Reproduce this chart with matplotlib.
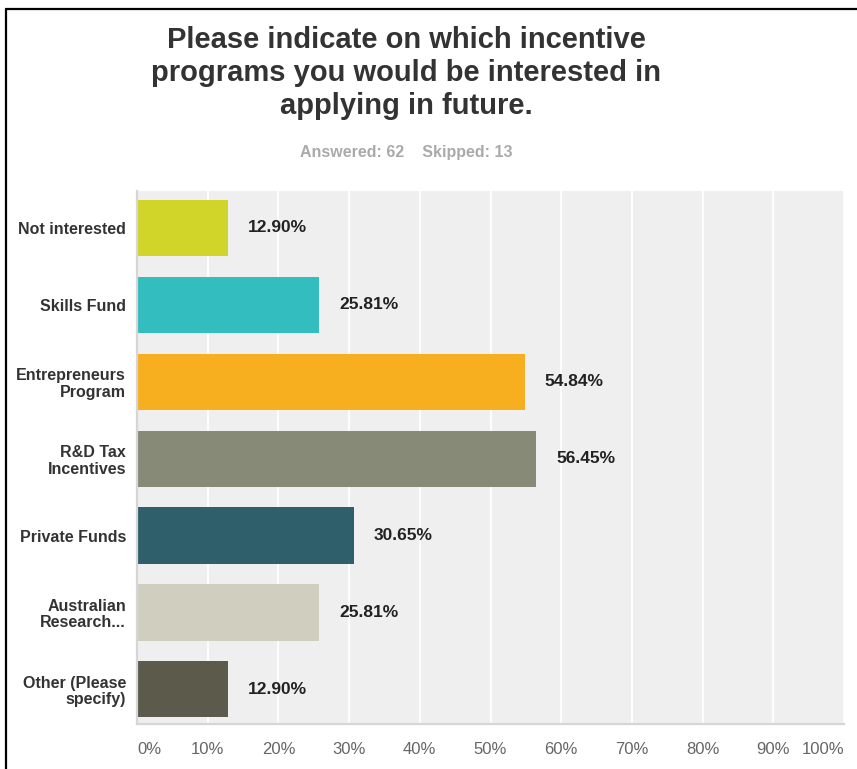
import matplotlib
matplotlib.use("Agg")
import matplotlib.pyplot as plt
from matplotlib.lines import Line2D

plt.rcParams["font.family"] = ["Liberation Sans", "DejaVu Sans"]

categories = [
    "Not interested",
    "Skills Fund",
    "Entrepreneurs\nProgram",
    "R&D Tax\nIncentives",
    "Private Funds",
    "Australian\nResearch...",
    "Other (Please\nspecify)",
]
values = [12.90, 25.81, 54.84, 56.45, 30.65, 25.81, 12.90]
colors = ["#d1d52a", "#33bdbf", "#f7af1f", "#888a78", "#2e5f6b", "#cfcebf", "#5b5a4b"]
ticks = [0, 10, 20, 30, 40, 50, 60, 70, 80, 90, 100]
tick_labels = [f"{t}%" for t in ticks]

title = "Please indicate on which incentive\nprograms you would be interested in\napplying in future."
subtitle = "Answered: 62    Skipped: 13"

W, H = 857, 769
fig = plt.figure(figsize=(W / 100, H / 100), dpi=100)
fig.patch.set_facecolor("white")

# plot area in pixels: x 137..844, y 191..724
ax = fig.add_axes([137 / W, (H - 724) / H, (844 - 137) / W, (724 - 191) / H])
ax.set_facecolor("#efefef")

ypos = list(range(len(categories)))
ax.barh(ypos, values, height=0.73, color=colors, zorder=3)
ax.set_xlim(0, 100)
ax.set_ylim(6.45, -0.48)

for y, v in zip(ypos, values):
    ax.annotate(f"{v:.2f}%", (v, y), xytext=(20, 0), textcoords="offset pixels",
                ha="left", va="center", fontsize=12.5, fontweight="bold", color="#222222")

ax.set_xticks(ticks)
ax.set_xticklabels(tick_labels, fontsize=12, color="#666666")
ax.get_xticklabels()[0].set_horizontalalignment("left")
ax.get_xticklabels()[-1].set_horizontalalignment("right")
ax.tick_params(axis="x", length=0, pad=13)
ax.set_yticks(ypos)
ax.set_yticklabels(categories, fontsize=11.5, fontweight="bold", color="#333333",
                   linespacing=1.12)
ax.tick_params(axis="y", length=0, pad=8)

ax.grid(axis="x", color="white", linewidth=1.3, zorder=1)
ax.grid(axis="y", visible=False)
ax.set_axisbelow(True)
for side in ("top", "right"):
    ax.spines[side].set_visible(False)
for side in ("left", "bottom"):
    ax.spines[side].set_color("#d6d6d6")
    ax.spines[side].set_linewidth(1.6)
    ax.spines[side].set_zorder(4)

fig.text(406 / W, 1 - 73 / H, title, ha="center", va="center", fontsize=21,
         fontweight="bold", color="#333333", linespacing=1.25)
fig.text(406 / W, 1 - 152 / H, subtitle, ha="center", va="center", fontsize=11.5,
         fontweight="bold", color="#aaaaaa")

# frame lines round the screenshot
fig.add_artist(Line2D([6 / W, 6 / W], [0, 1 - 9 / H], color="black", linewidth=1.6,
                      solid_capstyle="butt", transform=fig.transFigure))
fig.add_artist(Line2D([5 / W, 1], [1 - 9 / H, 1 - 9 / H], color="black", linewidth=1.6,
                      solid_capstyle="butt", transform=fig.transFigure))

fig.savefig("out.png", dpi=100)
